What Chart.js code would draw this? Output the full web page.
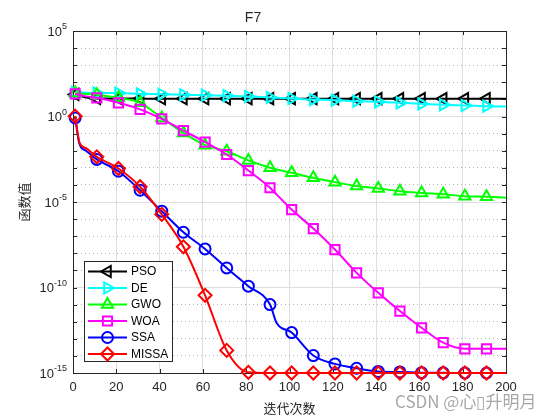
<!DOCTYPE html>
<html>
<head>
<meta charset="utf-8">
<script src="https://cdn.jsdelivr.net/npm/chart.js@4.4.1/dist/chart.umd.min.js"></script>
<style>
  html, body { margin: 0; padding: 0; background: #fff; }
  #wrap { width: 560px; height: 420px; }
</style>
</head>
<body>
<div id="wrap"><canvas id="convChart" width="560" height="420"></canvas></div>
<script>
// iteration numbers where values were read (markers sit on 1, 11, 21 ... 191)
const iters = [1, 3, 6, 11, 21, 31, 41, 51, 61, 71, 81, 91, 94, 101, 111, 121, 131, 141, 151, 161, 171, 181, 191, 200];

const psoVals = [19.4, 16, 13, 11.3, 11.2, 11.1, 11, 11, 11, 11, 11, 11, 11, 11, 11, 11, 11, 11, 11, 11, 11, 11, 11, 11];
const deVals = [26, 25, 24.5, 24, 23.5, 21, 20, 18.5, 17.7, 16.4, 14.8, 12.9, 12.4, 11.3, 9.8, 9, 7.8, 7.2, 6.3, 5.5, 4.8, 4.4, 4.0, 3.8];
const gwoVals = [24, 22, 21, 19, 12.4, 6.3, 0.83, 0.11, 0.021, 0.0093, 0.0027, 1e-3, 8e-4, 5.1e-4, 2.6e-4, 1.45e-4, 8.5e-5, 6.2e-5, 4.3e-5, 3.4e-5, 2.8e-5, 2.2e-5, 2.0e-5, 1.8e-5];
const woaVals = [21, 18, 15, 12.4, 6.3, 2.6, 0.73, 0.15, 0.032, 0.006, 6.9e-4, 6.8e-5, 2.8e-5, 3.6e-6, 2.8e-7, 1.66e-8, 7.2e-10, 4.9e-11, 4.2e-12, 4.4e-13, 5.9e-14, 2.6e-14, 2.6e-14, 2.6e-14];
const ssaVals = [0.83, 0.025, 0.01, 3.1e-3, 6.3e-4, 4.9e-5, 2.9e-6, 1.7e-7, 1.8e-8, 1.4e-9, 1.2e-10, 1.0e-11, 8.7e-13, 2.3e-13, 1.05e-14, 3.4e-15, 1.9e-15, 1.23e-15, 1.15e-15, 1.05e-15, 1.02e-15, 1e-15, 1e-15, 1e-15];
const missaVals = [1.05, 0.03, 0.014, 4.4e-3, 9.1e-4, 7.8e-5, 1.9e-6, 2.4e-8, 3.5e-11, 2.1e-14, 1.1e-15, 1e-15, 1e-15, 1e-15, 1e-15, 1e-15, 1e-15, 1e-15, 1e-15, 1e-15, 1e-15, 1e-15, 1e-15, 1e-15];

const seriesNames = ['PSO', 'DE', 'GWO', 'WOA', 'SSA', 'MISSA'];
const yLabelExps = [5, 0, -5, -10, -15];

const latin = '"Liberation Sans", Arial, sans-serif';
const cjk = '"Noto Sans CJK SC", sans-serif';
const textCol = '#262626';

function makeSet(label, vals, color, style, rot, r, order) {
  return {
    label: label,
    data: iters.map((x, i) => ({ x: x, y: vals[i] })),
    borderColor: color,
    borderWidth: 2,
    pointStyle: style,
    pointRotation: rot,
    pointRadius: iters.map(x => (x - 1) % 10 === 0 ? r : 0),
    pointBorderWidth: 2,
    pointBorderColor: color,
    pointBackgroundColor: 'rgba(0,0,0,0)',
    cubicInterpolationMode: 'monotone',
    clip: false,
    order: order
  };
}

function decadeTicks(scale) {
  scale.ticks = [];
  for (let e = -15; e <= 5; e++) scale.ticks.push({ value: Math.pow(10, e) });
}
function isMajor(v) {
  return Math.round(Math.log10(v)) % 5 === 0;
}

// axes box + inward ticks, drawn under the lines
const boxPlugin = {
  id: 'boxPlugin',
  beforeDatasetsDraw(chart) {
    const { ctx, chartArea: a, scales } = chart;
    ctx.save();
    ctx.strokeStyle = textCol;
    ctx.lineWidth = 1;
    ctx.strokeRect(a.left + 0.5, a.top + 0.5, a.right - a.left, a.bottom - a.top);
    ctx.beginPath();
    scales.x.ticks.forEach(t => {
      const px = Math.round(scales.x.getPixelForValue(t.value)) + 0.5;
      ctx.moveTo(px, a.bottom); ctx.lineTo(px, a.bottom - 4);
      ctx.moveTo(px, a.top); ctx.lineTo(px, a.top + 4);
    });
    for (let e = -15; e <= 5; e++) {
      const py = Math.round(scales.y.getPixelForValue(Math.pow(10, e))) + 0.5;
      ctx.moveTo(a.left, py); ctx.lineTo(a.left + 4, py);
      ctx.moveTo(a.right, py); ctx.lineTo(a.right - 4, py);
    }
    ctx.stroke();
    ctx.restore();
  },
  afterDraw(chart) {
    const { ctx, chartArea: a, scales } = chart;
    ctx.save();
    // 10^n tick labels
    ctx.fillStyle = textCol;
    ctx.textBaseline = 'middle';
    yLabelExps.forEach(e => {
      const py = scales.y.getPixelForValue(Math.pow(10, e));
      const expTxt = String(e);
      ctx.font = '9px ' + latin;
      const ew = ctx.measureText(expTxt).width;
      ctx.font = '13px ' + latin;
      const bw = ctx.measureText('10').width;
      const right = a.left - 6;
      ctx.textAlign = 'left';
      ctx.fillText('10', right - ew - bw, py + 1);
      ctx.font = '9px ' + latin;
      ctx.fillText(expTxt, right - ew, py - 4);
    });
    // watermark
    ctx.font = '17px ' + cjk;
    ctx.fillStyle = 'rgba(110,110,110,0.6)';
    ctx.textAlign = 'left';
    ctx.fillText('CSDN @心▯升明月', 395, 402);
    ctx.restore();
  }
};

// legend box in the lower left of the plot
const legendPlugin = {
  id: 'legendPlugin',
  afterDatasetsDraw(chart) {
    const { ctx } = chart;
    const bx = 84.5, by = 261.5, bw = 88, bh = 100;
    ctx.save();
    ctx.fillStyle = '#fff';
    ctx.fillRect(bx, by, bw, bh);
    ctx.strokeStyle = textCol;
    ctx.lineWidth = 1;
    ctx.strokeRect(bx, by, bw, bh);
    chart.data.datasets.forEach((ds, i) => {
      const y = 271.5 + i * 16.5;
      ctx.strokeStyle = ds.borderColor;
      ctx.lineWidth = 2;
      ctx.beginPath();
      ctx.moveTo(88, y); ctx.lineTo(127, y);
      ctx.stroke();
      ctx.fillStyle = 'rgba(0,0,0,0)';
      Chart.helpers.drawPoint(ctx, {
        pointStyle: ds.pointStyle,
        rotation: ds.pointRotation,
        radius: Math.max(...ds.pointRadius),
        borderWidth: 2
      }, 107.5, y);
      ctx.fillStyle = '#000';
      ctx.font = '12px ' + latin;
      ctx.textAlign = 'left';
      ctx.textBaseline = 'middle';
      ctx.fillText(ds.label, 131, y + 0.5);
    });
    ctx.restore();
  }
};

new Chart(document.getElementById('convChart'), {
  type: 'line',
  data: {
    datasets: [
      makeSet(seriesNames[0], psoVals, '#000000', 'triangle', -90, 6.5, 6),
      makeSet(seriesNames[1], deVals, '#00ffff', 'triangle', 90, 6.5, 5),
      makeSet(seriesNames[2], gwoVals, '#00ff00', 'triangle', 0, 6.5, 4),
      makeSet(seriesNames[3], woaVals, '#ff00ff', 'rect', 0, 6.5, 3),
      makeSet(seriesNames[4], ssaVals, '#0000ff', 'circle', 0, 5.5, 2),
      makeSet(seriesNames[5], missaVals, '#ff0000', 'rectRot', 0, 6.5, 1)
    ]
  },
  options: {
    responsive: false,
    animation: false,
    layout: { padding: { left: 0, right: 54, top: 0, bottom: 0 } },
    plugins: {
      legend: { display: false },
      tooltip: { enabled: false },
      title: {
        display: true,
        text: 'F7',
        color: textCol,
        font: { family: latin, size: 14, weight: 'normal' },
        padding: { top: 9.5, bottom: 4.7 }
      }
    },
    scales: {
      x: {
        type: 'linear',
        min: 0,
        max: 200,
        ticks: { stepSize: 20, color: textCol, font: { family: latin, size: 13 }, padding: 7, maxRotation: 0 },
        grid: { color: '#dedede', drawTicks: false },
        border: { display: false },
        title: { display: true, text: '迭代次数', color: textCol, font: { family: cjk, size: 13 }, padding: { top: 0, bottom: 4 } },
        afterFit: s => { s.height = 47; }
      },
      y: {
        type: 'logarithmic',
        position: 'left',
        min: 1e-15,
        max: 1e5,
        afterBuildTicks: decadeTicks,
        ticks: { display: false },
        grid: { color: c => isMajor(c.tick.value) ? '#dedede' : 'rgba(0,0,0,0)', drawTicks: false },
        border: { display: false },
        title: { display: true, text: '函数值', color: textCol, font: { family: cjk, size: 13 }, padding: { top: 16, bottom: 0 } },
        afterFit: s => { s.width = 73; }
      },
      y2: {
        type: 'logarithmic',
        position: 'left',
        min: 1e-15,
        max: 1e5,
        afterBuildTicks: decadeTicks,
        ticks: { display: false },
        grid: { color: c => isMajor(c.tick.value) ? 'rgba(0,0,0,0)' : '#b4b4b4', drawTicks: false },
        border: { display: false, dash: [1, 3] },
        afterFit: s => { s.width = 0; }
      }
    }
  },
  plugins: [boxPlugin, legendPlugin]
});
</script>
</body>
</html>
